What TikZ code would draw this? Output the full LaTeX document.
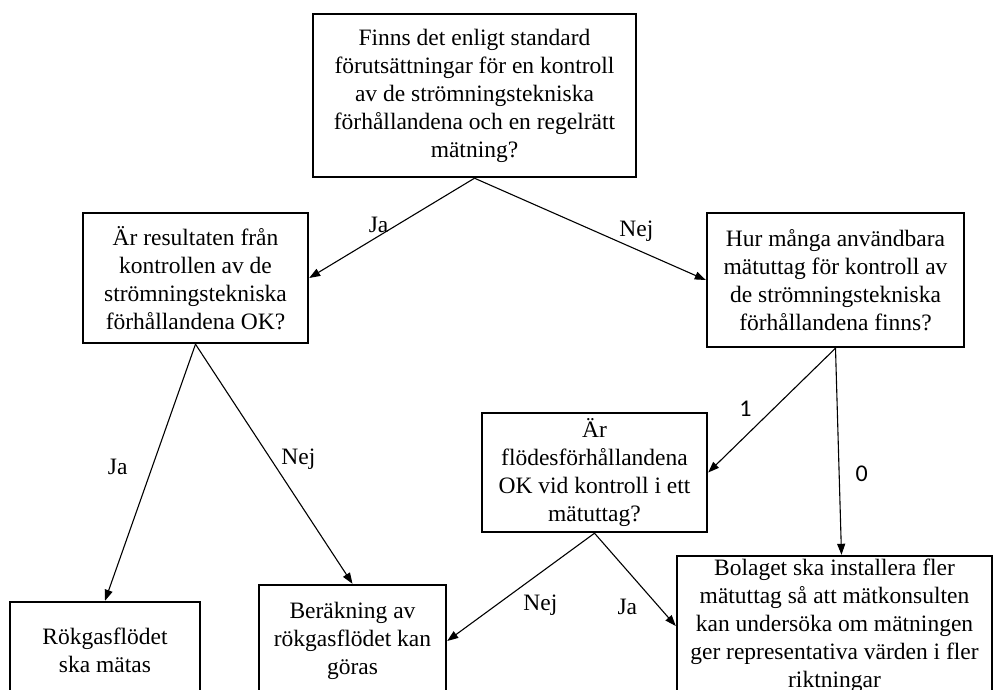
\documentclass[tikz,border=0pt]{standalone}
\usepackage{fontspec}
\setmainfont{Liberation Serif}
\newfontfamily\digitfont{Carlito}
\usetikzlibrary{arrows.meta}
\tikzset{
box/.style={
	draw, line width=2.4pt, align=center, inner sep=0pt,
	font=\fontsize{23.5}{28}\selectfont},
arr/.style={-{Triangle[length=11pt,width=8pt]}, line width=1.1pt},
lbl/.style={font=\fontsize{23.5}{28}\selectfont, inner sep=2pt},
num/.style={font=\digitfont\fontsize{24}{28}\selectfont, inner sep=2pt}
}

\begin{document}
\begin{tikzpicture}[x=1pt, y=-1pt]
	\useasboundingbox (0,0) rectangle (996,689);
	\clip (0,0) rectangle (996,689);
	\node[box, minimum width=323pt, minimum height=163pt] (top) at (474.5,95.5)
		{Finns det enligt standard\\förutsättningar för en kontroll\\av de strömningstekniska\\förhållandena och en regelrätt\\mätning?};
	\node[box, minimum width=225pt, minimum height=130pt] (res) at (195.5,278)
		{Är resultaten från\\kontrollen av de\\strömningstekniska\\förhållandena OK?};
	\node[box, minimum width=257pt, minimum height=134pt] (hur) at (835.5,280)
		{Hur många användbara\\mätuttag för kontroll av\\de strömningstekniska\\förhållandena finns?};
	\node[box, minimum width=225pt, minimum height=119pt] (flod) at (594.5,472.5)
		{Är\\flödesförhållandena\\OK vid kontroll i ett\\mätuttag?};
	\node[box, minimum width=190pt, minimum height=96pt] (mat) at (105,650)
		{Rökgasflödet\\ska mätas};
	\node[box, minimum width=187pt, minimum height=112pt] (ber) at (352.5,641)
		{Beräkning av\\rökgasflödet kan\\göras};
	\node[box, minimum width=315pt, minimum height=140pt] (bol) at (834.5,626)
		{Bolaget ska installera fler\\mätuttag så att mätkonsulten\\kan undersöka om mätningen\\ger representativa värden i fler\\riktningar};

	\draw[arr] (top.south) -- node[lbl, pos=0.58, above=1pt] {Ja} (res.east);
	\draw[arr] (top.south) -- node[lbl, pos=0.70, above=5pt] {Nej} (hur.west);
	\draw[arr] (res.south) -- node[lbl, pos=0.48, left=22pt] {Ja} (mat.north);
	\draw[arr] (res.south) -- node[lbl, pos=0.48, right=8pt] {Nej} (ber.north);
	\draw[arr] (hur.south) -- node[num, pos=0.49, left=19pt] {1} (flod.east);
	\draw[arr] (hur.south) -- node[num, pos=0.61, right=14pt] {0} ([xshift=7pt]bol.north);
	\draw[arr] (flod.south) -- node[lbl, pos=0.52, below right=3pt] {Nej} (ber.east);
	\draw[arr] (flod.south) -- node[lbl, pos=0.79, left=19pt] {Ja} (bol.west);
\end{tikzpicture}
\end{document}
